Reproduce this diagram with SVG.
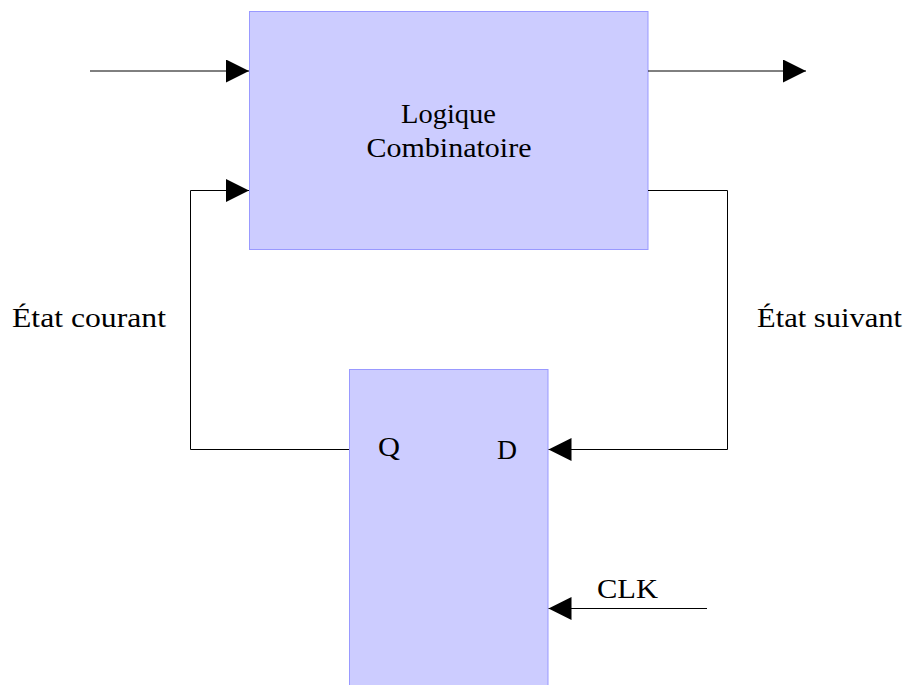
<svg xmlns="http://www.w3.org/2000/svg" width="907" height="685" viewBox="0 0 907 685">
  <style>
    .box { fill: #ccccff; stroke: #9999ff; stroke-width: 1; }
    .wire { fill: none; stroke: #000000; stroke-width: 1; }
    .lbl { font-family: "Liberation Serif", "DejaVu Serif", serif; font-size: 27px; fill: #000000; }
  </style>
  <defs>
    <marker id="tri" viewBox="0 0 23 23" refX="23" refY="11.5" markerWidth="23" markerHeight="23" markerUnits="userSpaceOnUse" orient="auto">
      <path d="M0,0 L23,11.5 L0,23 Z" fill="#000000"/>
    </marker>
  </defs>
  <rect width="907" height="685" fill="#ffffff"/>

  <g id="logique">
    <rect class="box" x="249.5" y="11.5" width="398.5" height="238"/>
    <text class="lbl" x="448.5" y="123" text-anchor="middle" textLength="95" lengthAdjust="spacingAndGlyphs">Logique</text>
    <text class="lbl" x="449" y="157" text-anchor="middle" textLength="165" lengthAdjust="spacingAndGlyphs">Combinatoire</text>
  </g>

  <g id="bascule">
    <rect class="box" x="349.5" y="369.5" width="198.5" height="330"/>
    <text class="lbl" x="389" y="456" text-anchor="middle" textLength="22" lengthAdjust="spacingAndGlyphs">Q</text>
    <text class="lbl" x="507" y="459" text-anchor="middle" textLength="20" lengthAdjust="spacingAndGlyphs">D</text>
  </g>

  <g id="connecteurs">
    <line class="wire" x1="90" y1="71" x2="249" y2="71" marker-end="url(#tri)"/>
    <line class="wire" x1="648" y1="71" x2="806" y2="71" marker-end="url(#tri)"/>
    <polyline class="wire" points="349,449.5 190.5,449.5 190.5,190.5 249,190.5" marker-end="url(#tri)"/>
    <polyline class="wire" points="648,190.5 727.5,190.5 727.5,449.5 548.5,449.5" marker-end="url(#tri)"/>
    <line class="wire" x1="707" y1="608.5" x2="548.5" y2="608.5" marker-end="url(#tri)"/>
  </g>

  <g id="labels">
    <text class="lbl" x="12" y="327" textLength="154" lengthAdjust="spacingAndGlyphs">État courant</text>
    <text class="lbl" x="757" y="327" textLength="145" lengthAdjust="spacingAndGlyphs">État suivant</text>
    <text class="lbl" x="597" y="598" textLength="61" lengthAdjust="spacingAndGlyphs">CLK</text>
  </g>
</svg>
